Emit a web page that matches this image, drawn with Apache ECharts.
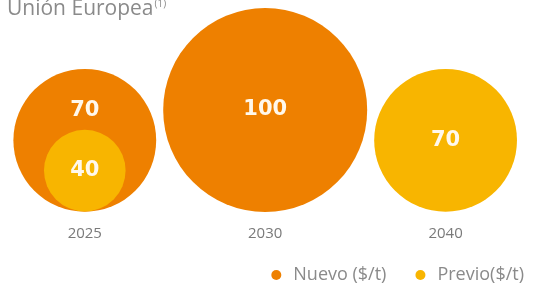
<!DOCTYPE html>
<html>
<head>
<meta charset="utf-8">
<script src="https://cdn.jsdelivr.net/npm/echarts@6/dist/echarts.min.js"></script>
<style>
html, body { margin: 0; padding: 0; background: #fff; }
#mychart { width: 543px; height: 290px; }
</style>
</head>
<body>
<div id="mychart"></div>
<script>
"use strict";
const years = ['2025', '2030', '2040'];
const nuevoValues = [70, 100, null];
const previoValues = [40, null, 70];
const seriesNames = ['Nuevo ($/t)', 'Previo($/t)'];

const container = document.getElementById('mychart');
const myChart = echarts.init(container);

function toPoints(values, labelShift) {
    const points = [];
    values.forEach((v, i) => {
        if (v == null) {
            return;
        }
        const point = { value: [i, v] };
        // the 2025 "Nuevo" bubble holds the smaller one, so its label sits higher
        if (labelShift && labelShift[i]) {
            point.label = { offset: [0, labelShift[i]] };
        }
        points.push(point);
    });
    return points;
}

const labelStyle = {
    show: true,
    position: 'inside',
    formatter: p => p.value[1],
    color: '#fff8ec',
    fontFamily: 'DejaVu Sans',
    fontWeight: 'bold',
    fontSize: 21
};

const option = {
    animation: false,
    title: {
        text: 'Unión Europea{s|(1)}',
        left: 2,
        top: -6,
        textStyle: {
            color: '#8a8a8a',
            fontFamily: 'Open Sans',
            fontWeight: 'normal',
            fontSize: 21,
            rich: {
                s: { fontSize: 10, verticalAlign: 'top', color: '#8a8a8a', padding: [0, 0, 10, 1] }
            }
        }
    },
    legend: {
        right: 14,
        bottom: 1,
        icon: 'circle',
        itemWidth: 10,
        itemHeight: 10,
        itemGap: 29,
        textStyle: { color: '#8a8a8a', fontFamily: 'Open Sans', fontSize: 18, padding: [0, 0, 0, 7] },
        data: seriesNames
    },
    grid: {
        left: 0,
        right: 0,
        top: 110,
        bottom: 79
    },
    // value axis so the three year positions can sit off-centre like the original
    xAxis: {
        type: 'value',
        min: -0.47,
        max: 2.54,
        splitLine: { show: false },
        axisLine: { show: false },
        axisTick: { show: false },
        axisLabel: {
            customValues: [0, 1, 2],
            formatter: v => years[v],
            margin: 15,
            color: '#7a7a7a',
            fontFamily: 'Open Sans',
            fontSize: 15
        }
    },
    yAxis: {
        type: 'value',
        min: 0,
        max: 100,
        show: false,
        splitLine: { show: false }
    },
    series: [
        {
            name: seriesNames[0],
            type: 'scatter',
            symbolSize: d => d[1] * 2.04,
            itemStyle: { color: '#ee8000', opacity: 1 },
            label: labelStyle,
            data: toPoints(nuevoValues, [-30, 0, 0])
        },
        {
            name: seriesNames[1],
            type: 'scatter',
            symbolSize: d => d[1] * 2.04,
            itemStyle: { color: '#f8b500', opacity: 1 },
            label: labelStyle,
            data: toPoints(previoValues)
        }
    ]
};
myChart.setOption(option);
</script>
</body>
</html>
